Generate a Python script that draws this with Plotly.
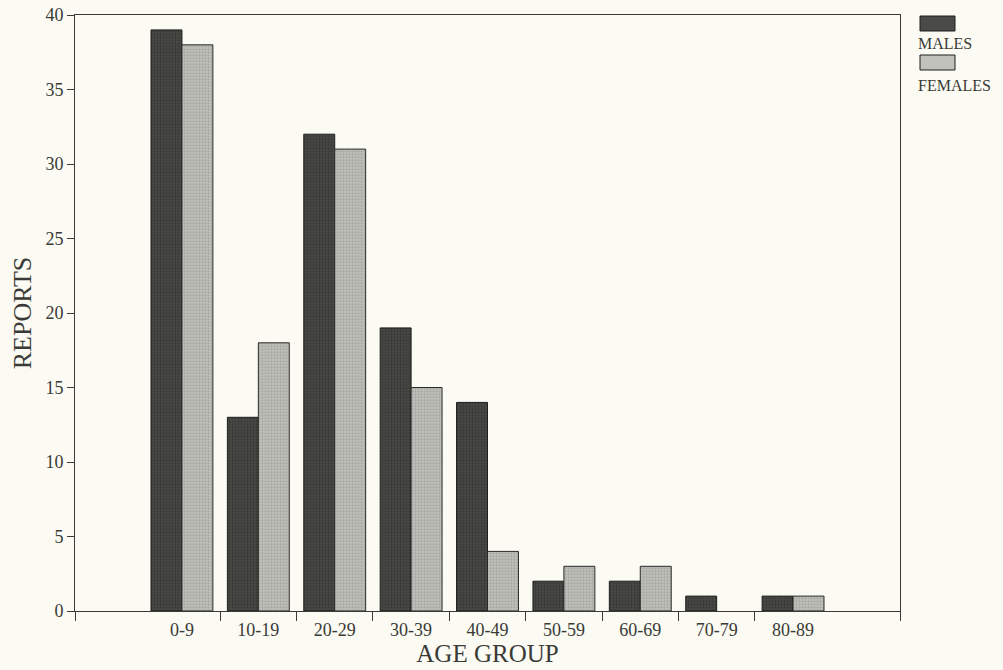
import plotly.graph_objects as go

categories = ["0-9", "10-19", "20-29", "30-39", "40-49", "50-59", "60-69", "70-79", "80-89"]
males = [39, 13, 32, 19, 14, 2, 2, 1, 1]
females = [38, 18, 31, 15, 4, 3, 3, 0, 1]
y_ticks = [0, 5, 10, 15, 20, 25, 30, 35, 40]

FONT = "Liberation Serif"
INK = "#3a3a36"
BG = "#fbfbf4"
MALE_BG = "#4a4a47"
MALE_FG = "#262624"
FEM_BG = "#c2c2bd"
FEM_FG = "#8e8e8a"

pos = list(range(len(categories)))
x_lo, x_hi = -1.4, len(categories) - 1 + 1.4
boundaries = [x_lo] + [i + 0.5 for i in pos[:-1]] + [x_hi]

# plot area target is x 75..900, y 15..611 in the window (body margin removed below)
W, H = 1003, 670
ML, MR, MT, MB = 75, 103, 15, 59
PW, PH = W - ML - MR, H - MT - MB

fig = go.Figure()
fig.add_trace(go.Bar(
    x=pos, y=males, name="MALES",
    marker=dict(color=MALE_BG,
                line=dict(color="#1e1e1c", width=[1 if v else 0 for v in males]),
                pattern=dict(shape=".", fgcolor=MALE_FG, bgcolor=MALE_BG, size=3, solidity=0.45)),
))
fig.add_trace(go.Bar(
    x=pos, y=females, name="FEMALES",
    marker=dict(color=FEM_BG,
                line=dict(color="#2a2a28", width=[1 if v else 0 for v in females]),
                pattern=dict(shape=".", fgcolor=FEM_FG, bgcolor=FEM_BG, size=3, solidity=0.45)),
))

fig.update_layout(
    width=W, height=H,
    margin=dict(l=ML, r=MR, t=MT, b=MB, autoexpand=False),
    paper_bgcolor=BG, plot_bgcolor=BG,
    barmode="group", bargap=0.19, bargroupgap=0,
    showlegend=False,
    font=dict(family=FONT, color=INK, size=18),
    xaxis=dict(
        range=[x_lo, x_hi], tickmode="array", tickvals=pos, ticktext=categories,
        ticks="", showline=True, linecolor=INK, linewidth=1, mirror=True,
        showgrid=False, zeroline=False, tickfont=dict(size=18, family=FONT, color=INK),
        ticklabelstandoff=2, automargin=False,
        minor=dict(tickmode="array", tickvals=boundaries, ticks="outside", ticklen=9,
                   tickcolor=INK, tickwidth=1, showgrid=False),
        title=dict(text="AGE GROUP", font=dict(size=25, family=FONT, color=INK), standoff=4),
    ),
    yaxis=dict(
        range=[0, 40], tickmode="array", tickvals=y_ticks,
        ticks="outside", ticklen=7, tickcolor=INK, tickwidth=1,
        showline=True, linecolor=INK, linewidth=1, mirror=True,
        showgrid=False, zeroline=False, tickfont=dict(size=18, family=FONT, color=INK),
        ticklabeloverflow="allow", ticklabelstandoff=0, automargin=False,
        title=dict(text="REPORTS", font=dict(size=26, family=FONT, color=INK), standoff=6),
    ),
)

# legend drawn as swatch above label, like the original (window px -> paper coords)
def px_x(x):
    return (x - ML) / PW

def px_y(y):
    return 1 - (y - MT) / PH

legend_items = [("MALES", MALE_BG, MALE_FG, 16, 44), ("FEMALES", FEM_BG, FEM_FG, 55, 85)]
for label, bg, fg, ytop, ytext in legend_items:
    fig.add_shape(type="rect", xref="paper", yref="paper",
                  x0=px_x(920), x1=px_x(955), y0=px_y(ytop + 15), y1=px_y(ytop),
                  fillcolor=bg, line=dict(color="#1e1e1c", width=1))
    fig.add_annotation(xref="paper", yref="paper", x=px_x(916), y=px_y(ytext),
                       xanchor="left", yanchor="middle", text=label, showarrow=False,
                       font=dict(size=16, family=FONT, color=INK))

fig.write_html(
    "out.html",
    config={"displayModeBar": False},
    post_script="document.body.style.margin='0';document.body.style.overflow='hidden';",
)
